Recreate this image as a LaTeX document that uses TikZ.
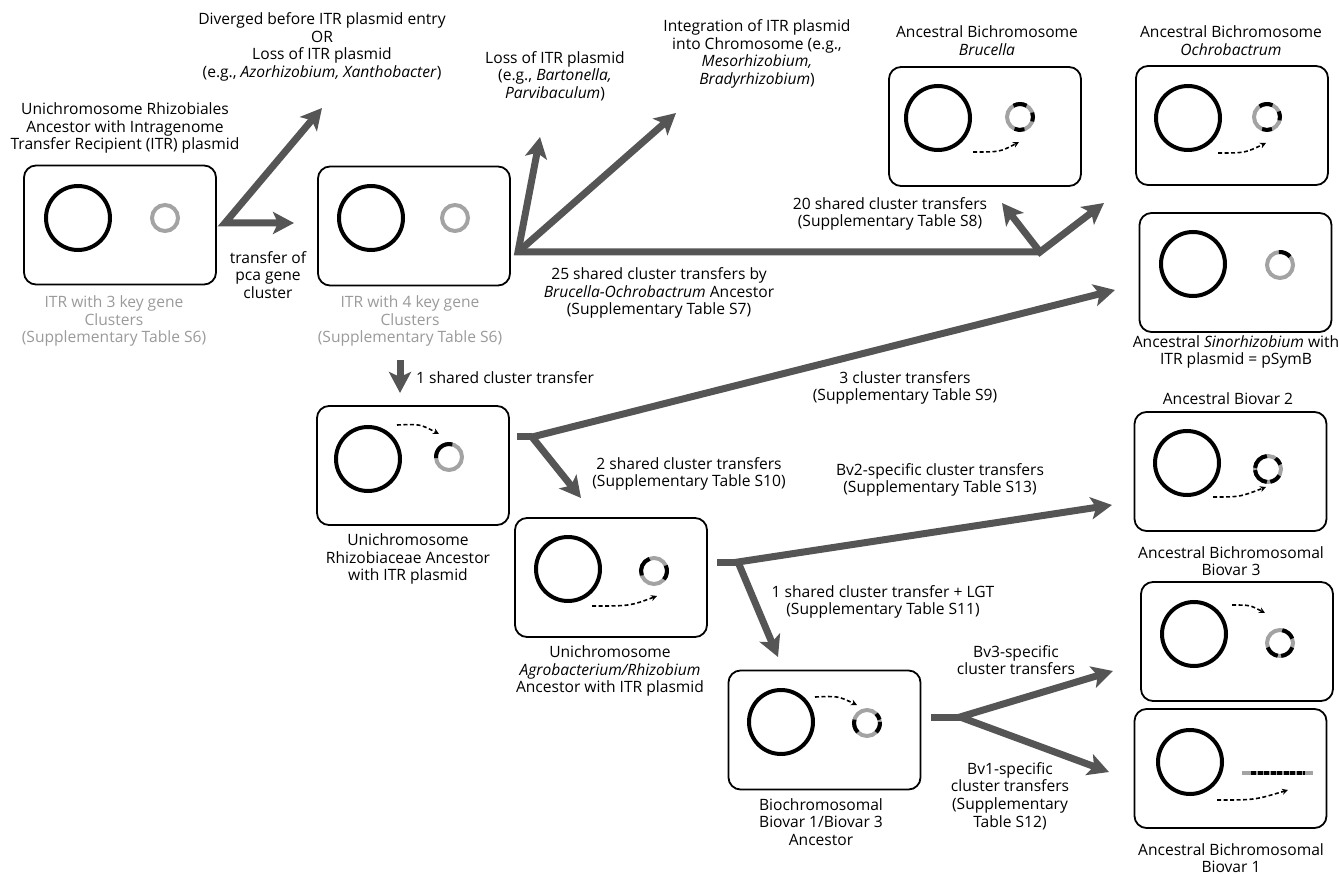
\documentclass[tikz,border=0pt]{standalone}
\usepackage{fontspec}
\setmainfont{Open Sans}
\usetikzlibrary{arrows.meta}
\definecolor{branchgray}{HTML}{555555}
\definecolor{itrgray}{HTML}{A3A3A3}
\definecolor{notegray}{HTML}{9A9A9A}
\newcommand{\segment}[3]{\draw[seg] (#1) ++(#2:13) arc[start angle=#2, end angle=#3, radius=13];}
\tikzset{
  cell/.style={draw, rounded corners=12pt, line width=1.8pt, minimum width=192pt, minimum height=119pt},
  chrom/.style={line width=4pt},
  itr/.style={line width=4pt, draw=itrgray},
  seg/.style={line width=4pt, draw=black},
  branch/.style={line width=7pt, draw=branchgray, >={Stealth[length=21pt,width=22pt,inset=5pt]}},
  hop/.style={line width=1.6pt, dash pattern=on 4pt off 2.5pt, >={Stealth[length=6pt,width=6pt]}, ->},
  lbl/.style={align=center, inner sep=0pt},
  note/.style={lbl, text=notegray}
}

\begin{document}
\begin{tikzpicture}[x=1pt, y=-1pt, font=\fontsize{15.6}{17.7}\selectfont]
  \useasboundingbox (0,0) rectangle (1339,874);

  %%%%% CELLS %%%%%
  \node[cell] (rhizobiales) at (120,225) {};
  \node[cell] (itrfour) at (414,226) {};
  \node[cell] (rhizobiaceae) at (413,465.5) {};
  \node[cell] (agrorhizo) at (611,577.5) {};
  \node[cell] (bvancestor) at (824.5,730) {};
  \node[cell] (brucella) at (985,126.5) {};
  \node[cell] (ochro) at (1232,125.5) {};
  \node[cell] (sino) at (1235.5,272.5) {};
  \node[cell] (biovartwo) at (1230.5,471.5) {};
  \node[cell] (biovarthree) at (1237,641.5) {};
  \node[cell] (biovarone) at (1230.5,768.5) {};

  %%%%% CHROMOSOMES %%%%%
  \draw[chrom] (78,218) circle (32);
  \draw[chrom] (371,218) circle (32);
  \draw[chrom] (368,459) circle (32);
  \draw[chrom] (568,569) circle (32);
  \draw[chrom] (781,722) circle (32);
  \draw[chrom] (938,118) circle (32);
  \draw[chrom] (1188,118) circle (32);
  \draw[chrom] (1193,264) circle (32);
  \draw[chrom] (1187,463) circle (32);
  \draw[chrom] (1194,634) circle (32);
  \draw[chrom] (1190,762) circle (32);

  %%%%% ITR PLASMIDS %%%%%
  \draw[itr] (165,218) circle (13);
  \draw[itr] (455,218) circle (13);
  \draw[itr] (449,457) circle (13);
  \segment{449,457}{-75}{-185}
  \draw[itr] (654,571) circle (13);
  \segment{654,571}{-110}{-200}
  \segment{654,571}{40}{-25}
  \draw[itr] (867,723) circle (13);
  \segment{867,723}{-165}{-225}
  \segment{867,723}{45}{-5}
  \segment{867,723}{-15}{-45}
  \draw[itr] (1020,117) circle (13);
  \segment{1020,117}{-60}{-120}
  \segment{1020,117}{20}{-20}
  \segment{1020,117}{-245}{-290}
  \draw[itr] (1267,117) circle (13);
  \segment{1267,117}{-65}{-125}
  \segment{1267,117}{15}{-25}
  \segment{1267,117}{-248}{-292}
  \draw[itr] (1280,265) circle (13);
  \segment{1280,265}{-40}{-95}
  \draw[itr] (1268,469) circle (13);
  \segment{1268,469}{-95}{-175}
  \segment{1268,469}{-185}{-265}
  \segment{1268,469}{-280}{-330}
  \segment{1268,469}{-20}{-55}
  \draw[itr] (1280,643) circle (13);
  \segment{1280,643}{-20}{-80}
  \segment{1280,643}{-200}{-260}
  \segment{1280,643}{-275}{-340}
  \draw[itr] (1242,773) -- (1313,773);
  \draw[seg, dash pattern=on 5pt off 1.5pt] (1251,773) -- (1305,773);

  %%%%% TRANSFERS INSIDE CELLS %%%%%
  \draw[hop] (397,425) .. controls (420,424) .. (439,434);
  \draw[hop] (592,606) .. controls (630,606) .. (657,596);
  \draw[hop] (815,697) .. controls (838,696) .. (857,705);
  \draw[hop] (973,152) .. controls (1000,152) .. (1019,142);
  \draw[hop] (1218,153) .. controls (1245,153) .. (1266,143);
  \draw[hop] (1213,497) .. controls (1240,497) .. (1266,487);
  \draw[hop] (1232,605) .. controls (1250,605) .. (1265,613);
  \draw[hop] (1217,800) .. controls (1255,800) .. (1288,790);

  %%%%% BRANCHES %%%%%
  \coordinate (forkA) at (225,223);
  \coordinate (divergedtip) at (322,108);
  \coordinate (pcatip) at (294,223);
  \draw[branch, <->] (divergedtip) -- (forkA) -- (pcatip);

  \coordinate (forkB) at (518,252);
  \coordinate (losstip) at (540,137);
  \coordinate (integtip) at (676,113);
  \coordinate (hubB) at (1040,252);
  \coordinate (brucellatip) at (1002,203);
  \coordinate (ochrotip) at (1104,203);
  \draw[branch, <-] (losstip) -- (forkB) -- (hubB);
  \draw[branch, ->] (forkB) -- (integtip);
  \draw[branch, <->] (brucellatip) -- (hubB) -- (ochrotip);

  \coordinate (stemtop) at (400,360);
  \coordinate (stemtip) at (400,393);
  \draw[branch, ->] (stemtop) -- (stemtip);

  \coordinate (stubC) at (517,437);
  \coordinate (forkC) at (532,437);
  \coordinate (sinotip) at (1115,290);
  \coordinate (agrotip) at (581,498);
  \draw[branch] (stubC) -- (forkC);
  \draw[branch, <->] (sinotip) -- (forkC) -- (agrotip);

  \coordinate (stubD) at (717,562);
  \coordinate (forkD) at (738,562);
  \coordinate (bvtwotip) at (1112,505);
  \coordinate (bvanctip) at (778,657);
  \draw[branch] (stubD) -- (forkD);
  \draw[branch, <->] (bvtwotip) -- (forkD) -- (bvanctip);

  \coordinate (stubE) at (931,717);
  \coordinate (forkE) at (960,717);
  \coordinate (bvthreetip) at (1113,671);
  \coordinate (bvonetip) at (1109,772);
  \draw[branch] (stubE) -- (forkE);
  \draw[branch, <->] (bvthreetip) -- (forkE) -- (bvonetip);

  %%%%% LABELS %%%%%
  \node[lbl] (rhizoname) at (125,128) {Unichromosome Rhizobiales\\Ancestor with Intragenome\\Transfer Recipient (ITR) plasmid};
  \node[lbl] (divergedlbl) at (322,47) {Diverged before ITR plasmid entry\\OR\\Loss of ITR plasmid\\(e.g., \textit{Azorhizobium, Xanthobacter})};
  \node[lbl] (pcalbl) at (268,275) {transfer of\\pca gene\\cluster};
  \node[note] (threekey) at (114,321) {ITR with 3 key gene\\Clusters\\(Supplementary Table S6)};
  \node[note] (fourkey) at (410,321) {ITR with 4 key gene\\Clusters\\(Supplementary Table S6)};
  \node[lbl] (losslbl) at (555,76) {Loss of ITR plasmid\\(e.g., \textit{Bartonella,}\\\textit{Parvibaculum})};
  \node[lbl] (integlbl) at (757,54) {Integration of ITR plasmid\\into Chromosome (e.g.,\\\textit{Mesorhizobium,}\\\textit{Bradyrhizobium})};
  \node[lbl] (twentyfive) at (659,293) {25 shared cluster transfers by\\\textit{Brucella-Ochrobactrum} Ancestor\\(Supplementary Table S7)};
  \node[lbl] (twenty) at (890,214) {20 shared cluster transfers\\(Supplementary Table S8)};
  \node[lbl] (brucellaname) at (987,41) {Ancestral Bichromosome\\\textit{Brucella}};
  \node[lbl] (ochroname) at (1231,41) {Ancestral Bichromosome\\\textit{Ochrobactrum}};
  \node[lbl] (sinoname) at (1236,352) {Ancestral \textit{Sinorhizobium} with\\ITR plasmid = pSymB};
  \node[lbl, anchor=west] (onesharedlbl) at (416,378) {1 shared cluster transfer};
  \node[lbl] (threelbl) at (905,388) {3 cluster transfers\\(Supplementary Table S9)};
  \node[lbl] (twolbl) at (689,474) {2 shared cluster transfers\\(Supplementary Table S10)};
  \node[lbl] (bvtwolbl) at (940,480) {Bv2-specific cluster transfers\\(Supplementary Table S13)};
  \node[lbl] (bvtwoname) at (1228,399) {Ancestral Biovar 2};
  \node[lbl] (rhizobiaceaename) at (408,559) {Unichromosome\\Rhizobiaceae Ancestor\\with ITR plasmid};
  \node[lbl] (lgtlbl) at (883,602) {1 shared cluster transfer + LGT\\(Supplementary Table S11)};
  \node[lbl] (bvthreename) at (1231,561) {Ancestral Bichromosomal\\Biovar 3};
  \node[lbl] (agroname) at (610,671) {Unichromosome\\\textit{Agrobacterium/Rhizobium}\\Ancestor with ITR plasmid};
  \node[lbl] (bvthreelbl) at (1016,660) {Bv3-specific\\cluster transfers};
  \node[lbl] (bvancname) at (821,822) {Biochromosomal\\Biovar 1/Biovar 3\\Ancestor};
  \node[lbl] (bvonelbl) at (1010,796) {Bv1-specific\\cluster transfers\\(Supplementary\\Table S12)};
  \node[lbl] (bvonename) at (1231,858) {Ancestral Bichromosomal\\Biovar 1};
\end{tikzpicture}
\end{document}
